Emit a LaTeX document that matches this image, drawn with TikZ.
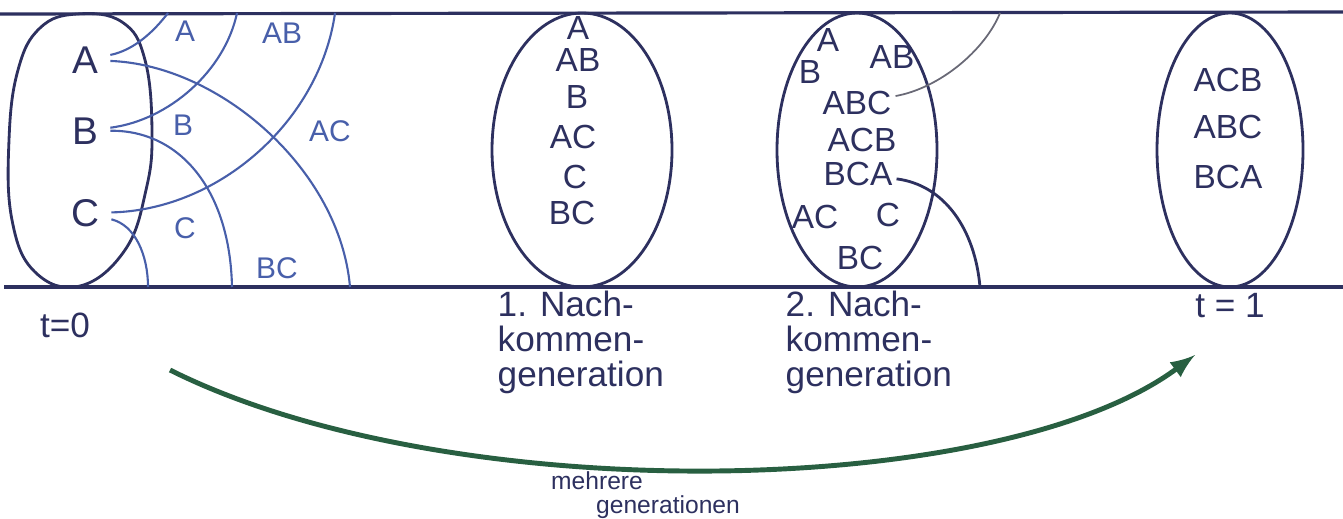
\documentclass[tikz,border=0pt]{standalone}
\usepackage{fontspec}
\setmainfont{Liberation Sans}
\definecolor{ink}{RGB}{45,48,95}
\definecolor{pen}{RGB}{72,95,170}
\definecolor{pencil}{RGB}{105,105,118}
\definecolor{marker}{RGB}{40,95,65}
\tikzset{
  rule/.style={ink, line width=0.9pt},
  bag/.style={ink, line width=0.8pt},
  cross/.style={pen, line width=0.6pt},
  big/.style={ink, font=\fontsize{11}{11}\selectfont},
  member/.style={ink, font=\fontsize{9.5}{9.5}\selectfont, inner sep=1pt},
  tag/.style={pen, font=\fontsize{8.5}{8.5}\selectfont},
  caption/.style={ink, font=\fontsize{10}{10}\selectfont, align=left, inner sep=0pt},
  small/.style={ink, font=\fontsize{7}{7}\selectfont, inner sep=0pt},
}
\begin{document}
\begin{tikzpicture}[x=0.01cm, y=-0.01cm]
\useasboundingbox (0,0) rectangle (1343,518);
\draw[rule] (0,14) -- (1343,12);
\draw[rule] (4,287) -- (1343,287);

\draw[bag] plot[smooth cycle, tension=0.7] coordinates {(77,14) (122,22) (145,60) (152,133) (146,190) (125,250) (80,286) (35,272) (12,220) (9,140) (18,70) (40,28)};
\draw[bag] (582,150) ellipse [x radius=90, y radius=137];
\draw[bag] (857,150) ellipse [x radius=80, y radius=137];
\draw[bag] (1230,150) ellipse [x radius=73, y radius=137];

\node[big] (a0) at (85,60) {A};
\node[big] (b0) at (85,131) {B};
\node[big] (c0) at (85,213) {C};

\coordinate (top1) at (168,13);
\coordinate (top2) at (237,13);
\coordinate (top3) at (335,13);
\coordinate (bot1) at (148,287);
\coordinate (bot2) at (232,287);
\coordinate (bot3) at (350,287);

\draw[cross] (a0) .. controls (135,50) and (155,30) .. (top1);
\draw[cross] (a0) .. controls (220,65) and (340,170) .. (bot3);
\draw[cross] (b0) .. controls (170,120) and (225,70) .. (top2);
\draw[cross] (b0) .. controls (180,130) and (230,190) .. (bot2);
\draw[cross] (c0) .. controls (220,210) and (320,120) .. (top3);
\draw[cross] (c0) .. controls (135,225) and (148,255) .. (bot1);

\node[tag] (ta) at (185,31) {A};
\node[tag] (tab) at (282,33) {AB};
\node[tag] (tb) at (183,125) {B};
\node[tag] (tac) at (330,131) {AC};
\node[tag] (tc) at (185,228) {C};
\node[tag] (tbc) at (277,268) {BC};

\node[member] (n1a) at (578,28) {A};
\node[member] (n1ab) at (578,60) {AB};
\node[member] (n1b) at (577,97) {B};
\node[member] (n1ac) at (573,137) {AC};
\node[member] (n1c) at (575,177) {C};
\node[member] (n1bc) at (572,213) {BC};

\node[member] (n2a) at (828,40) {A};
\node[member] (n2b) at (810,72) {B};
\node[member] (n2ab) at (892,57) {AB};
\node[member] (n2abc) at (857,103) {ABC};
\node[member] (n2acb) at (862,140) {ACB};
\node[member] (n2bca) at (858,174) {BCA};
\node[member] (n2ac) at (815,217) {AC};
\node[member] (n2c) at (888,215) {C};
\node[member] (n2bc) at (860,258) {BC};

\coordinate (top4) at (1000,13);
\coordinate (bot4) at (980,287);
\draw[pencil, line width=0.5pt] (n2abc) .. controls (940,88) and (985,50) .. (top4);
\draw[bag] (n2bca) .. controls (945,185) and (975,230) .. (bot4);

\node[member] (n3acb) at (1228,80) {ACB};
\node[member] (n3abc) at (1228,127) {ABC};
\node[member] (n3bca) at (1228,177) {BCA};

\node[caption] (t0) at (65,325) {t=0};
\node[caption, anchor=north west] (gen1) at (497,290) {1. Nach-\\kommen-\\generation};
\node[caption, anchor=north west] (gen2) at (785,290) {2. Nach-\\kommen-\\generation};
\node[caption] (t1) at (1230,306) {t = 1};

\coordinate (gstart) at (170,370);
\coordinate (gend) at (1195,355);
\draw[marker, line width=1.4pt, -latex] (gstart) .. controls (450,510) and (1000,500) .. (gend);
\node[small] (many) at (597,481) {mehrere};
\node[small] (gens) at (668,507) {generationen};
\end{tikzpicture}
\end{document}
